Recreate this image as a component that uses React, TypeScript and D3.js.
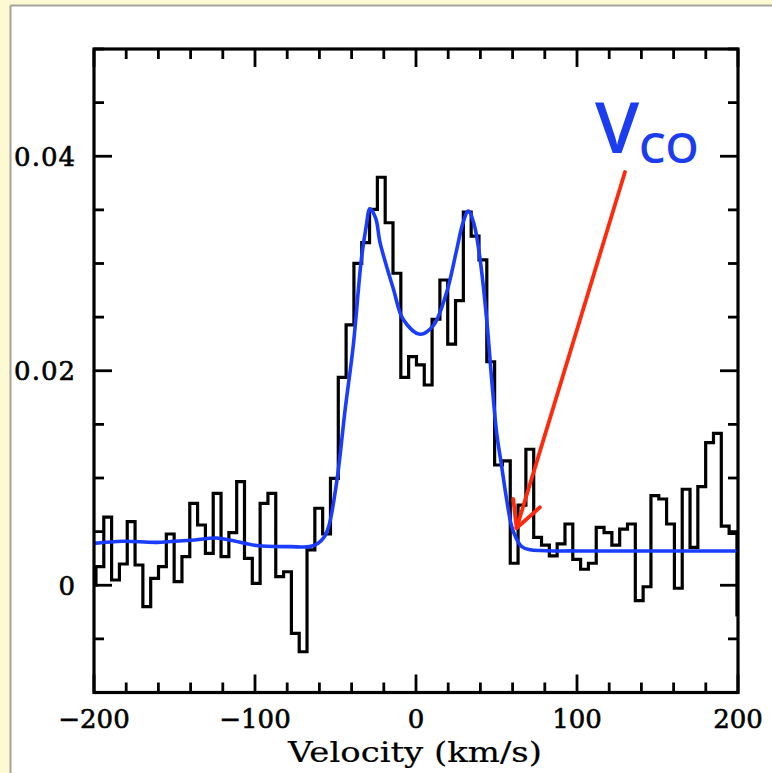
import React from "react";
import * as d3 from "d3";

// Spectrum channels (km/s): first channel centre and channel width
const chanStart = -201.2;
const chanWidth = 4.855;
// Observed flux per channel (histogram)
const fluxValues = [
  0.0, 0.00173, 0.00636, 0.00049, 0.00198, 0.00593, 0.00189, -0.002, 0.00065, 0.00173,
  0.00478, 0.00033, 0.00266, 0.00764, 0.00562, 0.00298, 0.00857, 0.00266, 0.0049, 0.00966,
  0.00251, 0.00018, 0.00764, 0.00857, 0.0008, 0.00126, -0.00448, -0.0062, 0.00329, 0.00718,
  0.00478, 0.00997, 0.01939, 0.02427, 0.03002, 0.03194, 0.03505, 0.03804, 0.0338, 0.02909,
  0.01939, 0.02131, 0.02054, 0.01867, 0.0248, 0.02846, 0.02248, 0.02653, 0.0348, 0.03256,
  0.03033, 0.02084, 0.01121, 0.01159, 0.00205, 0.00748, 0.01268, 0.00447, 0.00375, 0.00273,
  0.00385, 0.00571, 0.00242, 0.00149, 0.00205, 0.0054, 0.0049, 0.00375, 0.00524, 0.00571,
  -0.00144, -0.00014, 0.00835, 0.00804, 0.00571, -0.00028, 0.00895, 0.00354, 0.00919, 0.01329,
  0.01417, 0.00552, 0.00484, -0.00277,
];

// Fitted model (blue)
const fitVelocity = [
  -200, -182, -161, -140, -124, -115, -99, -78, -66, -61, -57, -54, -49, -44, -39, -34, -31,
  -28.6, -25, -22.4, -14, -8, 2.5, 10.7, 19, 25.3, 29, 32.5, 36, 39.8, 43.9, 47, 50.1, 53.2,
  56.3, 59.4, 62.5, 65.7, 70.8, 100, 150, 200,
];
const fitFlux = [
  0.0039, 0.0041, 0.004, 0.0042, 0.0044, 0.0042, 0.0037, 0.0036, 0.0036, 0.0039, 0.0045,
  0.0056, 0.0099, 0.0164, 0.0223, 0.0303, 0.0334, 0.0351, 0.0342, 0.032, 0.0276, 0.0248,
  0.0234, 0.0242, 0.0273, 0.0313, 0.0337, 0.0349, 0.0337, 0.0304, 0.0248, 0.0192, 0.0142,
  0.0111, 0.008, 0.0055, 0.0043, 0.0036, 0.0033, 0.0032, 0.0032, 0.0032,
];

const xDomain = [-200, 200];
const yDomain = [-0.01, 0.05];
const yLabelTicks = [0, 0.02, 0.04];
const xLabel = "Velocity (km/s)";
const annotationText = ["V", "CO"];
// arrow from (velocity, flux) to (velocity, flux)
const arrowFrom = [129.8, 0.03853];
const arrowTo = [62.5, 0.00534];

const W = 772;
const H = 773;
const L = 94, R = 738, T = 49, B = 692.5;

export default function App() {
  const x = d3.scaleLinear().domain(xDomain).range([L, R]);
  const y = d3.scaleLinear().domain(yDomain).range([B, T]);

  const edges = fluxValues.map((_, i) => chanStart + i * chanWidth - chanWidth / 2);
  const histPts: [number, number][] = fluxValues.map((v, i) => [edges[i], v]);
  histPts.push([edges[edges.length - 1] + chanWidth, fluxValues[fluxValues.length - 1]]);
  const histPath = d3
    .line<[number, number]>()
    .x((d) => x(d[0]))
    .y((d) => y(d[1]))
    .curve(d3.curveStepAfter)(histPts) as string;

  const fitPts: [number, number][] = fitVelocity.map((v, i) => [v, fitFlux[i]]);
  const fitPath = d3
    .line<[number, number]>()
    .x((d) => x(d[0]))
    .y((d) => y(d[1]))
    .curve(d3.curveCatmullRom.alpha(0.5))(fitPts) as string;

  const xMajor = x.ticks(4);
  const xMinor = x.ticks(20).filter((t) => !xMajor.includes(t));
  const yMajor = y.ticks(3);
  const yMinor = y.ticks(12).filter((t) => !yMajor.some((m) => Math.abs(m - t) < 1e-9));

  const majLen = 18, minLen = 10;
  const tickStyle = { stroke: "#000", strokeWidth: 2.8 };
  const fmtY = (v: number) => (v === 0 ? "0" : d3.format(".2f")(v));
  const fmtX = (v: number) => (v < 0 ? "\u2212" + Math.abs(v) : String(v));

  const ax = x(arrowFrom[0]), ay = y(arrowFrom[1]);
  const tx = x(arrowTo[0]), ty = y(arrowTo[1]);

  return (
    <svg
      width={W}
      height={H}
      style={{ position: "absolute", left: 0, top: 0, display: "block" }}
    >
      <defs>
        <clipPath id="plotclip">
          <rect x={L} y={T} width={R - L} height={B - T} />
        </clipPath>
      </defs>
      <rect x={0} y={0} width={W} height={H} fill="#fdf9d3" />
      <rect x={11} y={6} width={W - 11} height={H - 6} fill="#ffffff" />
      <line x1={10.5} y1={5.5} x2={W} y2={5.5} stroke="#a3a39b" strokeWidth={2} />
      <line x1={10.5} y1={5.5} x2={10.5} y2={H} stroke="#a3a39b" strokeWidth={2} />

      {/* ticks */}
      {xMajor.map((t) => (
        <g key={"xM" + t}>
          <line x1={x(t)} x2={x(t)} y1={B} y2={B - majLen} style={tickStyle} />
          <line x1={x(t)} x2={x(t)} y1={T} y2={T + majLen} style={tickStyle} />
        </g>
      ))}
      {xMinor.map((t) => (
        <g key={"xm" + t}>
          <line x1={x(t)} x2={x(t)} y1={B} y2={B - minLen} style={tickStyle} />
          <line x1={x(t)} x2={x(t)} y1={T} y2={T + minLen} style={tickStyle} />
        </g>
      ))}
      {yMajor.map((t) => (
        <g key={"yM" + t}>
          <line x1={L} x2={L + majLen} y1={y(t)} y2={y(t)} style={tickStyle} />
          <line x1={R} x2={R - majLen} y1={y(t)} y2={y(t)} style={tickStyle} />
        </g>
      ))}
      {yMinor.map((t) => (
        <g key={"ym" + t}>
          <line x1={L} x2={L + minLen} y1={y(t)} y2={y(t)} style={tickStyle} />
          <line x1={R} x2={R - minLen} y1={y(t)} y2={y(t)} style={tickStyle} />
        </g>
      ))}

      <g clipPath="url(#plotclip)">
        <path d={histPath} fill="none" stroke="#000" strokeWidth={3.2} strokeLinejoin="miter" />
        <path d={fitPath} fill="none" stroke="#1a3cff" strokeWidth={3.6} />
      </g>

      <rect x={L} y={T} width={R - L} height={B - T} fill="none" stroke="#000" strokeWidth={3.2} />

      {/* tick labels */}
      <g fontFamily="'DejaVu Serif', serif" fontSize={26} fill="#000" stroke="#000" strokeWidth={0.6}>
        {yLabelTicks.map((t) => (
          <text key={"yl" + t} x={L - 18} y={y(t)} dy="0.36em" textAnchor="end" letterSpacing={1}>
            {fmtY(t)}
          </text>
        ))}
        {xMajor.map((t) => (
          <text key={"xl" + t} x={x(t)} y={728} textAnchor="middle">
            {fmtX(t)}
          </text>
        ))}
        <text x={415} y={762} textAnchor="middle" fontSize={27} strokeWidth={0.2} textLength={254} lengthAdjust="spacingAndGlyphs">
          {xLabel}
        </text>
      </g>

      {/* annotation */}
      <g stroke="#ff2a0c" strokeWidth={3.8} strokeLinecap="round" fill="none">
        <line x1={ax} y1={ay} x2={tx} y2={ty} />
        <line x1={tx} y1={ty} x2={tx - 3.4} y2={ty - 29} />
        <line x1={tx} y1={ty} x2={tx + 23.3} y2={ty - 20.7} />
      </g>
      <g fill="#1c3cf0" fontFamily="'Open Sans', sans-serif" fontWeight={600}>
        <text x={595} y={153} fontSize={71}>
          {annotationText[0]}
        </text>
        <text x={639} y={163} fontSize={42}>
          {annotationText[1]}
        </text>
      </g>
    </svg>
  );
}
